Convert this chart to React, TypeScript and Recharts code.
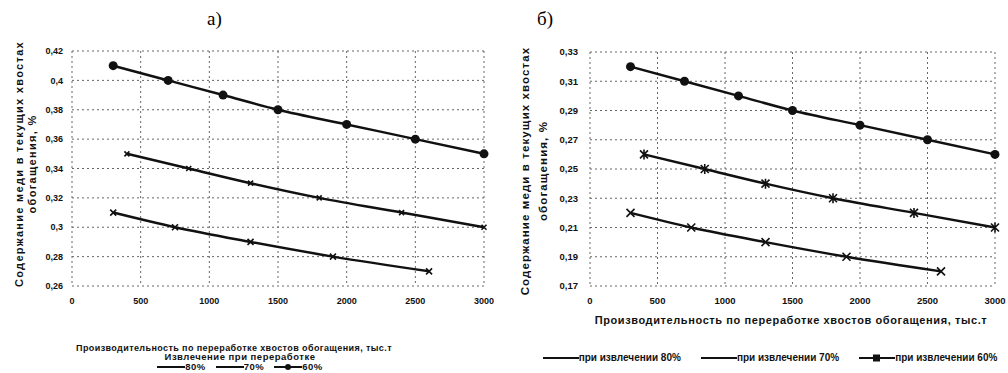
import React from 'react';
import { LineChart, Line, XAxis, YAxis, CartesianGrid, Legend, Label } from 'recharts';

const xTicks = [0, 500, 1000, 1500, 2000, 2500, 3000];
const yTicksA = [0.26, 0.28, 0.3, 0.32, 0.34, 0.36, 0.38, 0.4, 0.42];
const yTicksB = [0.17, 0.19, 0.21, 0.23, 0.25, 0.27, 0.29, 0.31, 0.33];

// производительность, тыс.т
const x60 = [300, 700, 1100, 1500, 2000, 2500, 3000];
const x70 = [400, 850, 1300, 1800, 2400, 3000];
const x80 = [300, 750, 1300, 1900, 2600];

// содержание меди, %
const a60 = [0.41, 0.4, 0.39, 0.38, 0.37, 0.36, 0.35];
const a70 = [0.35, 0.34, 0.33, 0.32, 0.31, 0.3];
const a80 = [0.31, 0.3, 0.29, 0.28, 0.27];
const b60 = [0.32, 0.31, 0.3, 0.29, 0.28, 0.27, 0.26];
const b70 = [0.26, 0.25, 0.24, 0.23, 0.22, 0.21];
const b80 = [0.22, 0.21, 0.2, 0.19, 0.18];

const namesA = ['80%', '70%', '60%'];
const namesB = ['при извлечении 80%', 'при извлечении 70%', 'при извлечении 60%'];
const xTitle = 'Производительность по переработке хвостов обогащения, тыс.т';
const yTitle = ['Содержание меди в текущих хвостах', 'обогащения, %'];
const legendTitleA = 'Извлечение при переработке';

const zip = (xs: number[], ys: number[]) => xs.map((x, i) => ({ x, y: ys[i] }));
const fmt = (v: number) => String(Number(v.toFixed(2))).replace('.', ',');

const FONT = '"Liberation Sans", Arial, sans-serif';
const INK = '#111';

const Circle = (p: any) => <circle key={p.key ?? `c${p.index}`} cx={p.cx} cy={p.cy} r={4.5} fill={INK} />;
const Cross = (s: number) => (p: any) => (
  <path
    key={p.key ?? `x${p.index}`}
    d={`M${p.cx - s},${p.cy - s}L${p.cx + s},${p.cy + s}M${p.cx - s},${p.cy + s}L${p.cx + s},${p.cy - s}`}
    stroke={INK}
    strokeWidth={1.6}
    fill="none"
  />
);
const Star = (s: number) => (p: any) => (
  <path
    key={p.key ?? `s${p.index}`}
    d={`M${p.cx - s},${p.cy - s}L${p.cx + s},${p.cy + s}M${p.cx - s},${p.cy + s}L${p.cx + s},${p.cy - s}M${p.cx},${p.cy - s - 1}L${p.cx},${p.cy + s + 1}`}
    stroke={INK}
    strokeWidth={1.6}
    fill="none"
  />
);

const YTitle = ({ x1, x2, y, size, ls }: any) => (
  <g fontFamily={FONT} fontWeight="bold" fontSize={size} fill={INK} letterSpacing={ls}>
    <text x={x1} y={y} transform={`rotate(-90 ${x1} ${y})`} textAnchor="middle" dominantBaseline="central">{yTitle[0]}</text>
    <text x={x2} y={y} transform={`rotate(-90 ${x2} ${y})`} textAnchor="middle" dominantBaseline="central">{yTitle[1]}</text>
  </g>
);

const LegendA = () => (
  <div style={{ fontFamily: FONT, fontWeight: 'bold', fontSize: 9.5, letterSpacing: 0.5, color: INK, textAlign: 'center', lineHeight: '10px' }}>
    <div>{legendTitleA}</div>
    <div style={{ display: 'flex', justifyContent: 'center', gap: 10 }}>
      {namesA.map((name, i) => (
        <span key={name} style={{ display: 'flex', alignItems: 'center' }}>
          <svg width={28} height={8}>
            <line x1={0} y1={4} x2={28} y2={4} stroke={INK} strokeWidth={2} />
            {i === 2 && <circle cx={14} cy={4} r={3} fill={INK} />}
          </svg>
          <span>{name}</span>
        </span>
      ))}
    </div>
  </div>
);

const LegendB = () => (
  <div style={{ fontFamily: FONT, fontWeight: 'bold', fontSize: 10, color: INK, display: 'flex', justifyContent: 'center', gap: 20 }}>
    {namesB.map((name, i) => (
      <span key={name} style={{ display: 'flex', alignItems: 'center' }}>
        <svg width={36} height={10}>
          <line x1={0} y1={5} x2={36} y2={5} stroke={INK} strokeWidth={2} />
          {i === 2 && <rect x={14} y={1.5} width={7} height={7} fill={INK} />}
        </svg>
        <span>{name}</span>
      </span>
    ))}
  </div>
);

const gridProps = { stroke: '#666', strokeDasharray: '2 3', strokeWidth: 1 };

export default function App() {
  return (
    <div style={{ position: 'absolute', left: 0, top: 0, width: 1008, height: 373, background: '#fff', overflow: 'hidden' }}>
      <div style={{ position: 'absolute', left: 207, top: 8, fontFamily: '"Liberation Serif", serif', fontSize: 19 }}>а)</div>
      <div style={{ position: 'absolute', left: 537, top: 8, fontFamily: '"Liberation Serif", serif', fontSize: 19 }}>б)</div>

      <div style={{ position: 'absolute', left: 0, top: 0 }}>
        <LineChart width={500} height={373} margin={{ top: 51, right: 16, bottom: 57, left: 32 }}>
          <CartesianGrid {...gridProps} />
          <XAxis
            type="number"
            dataKey="x"
            domain={[0, 3000]}
            ticks={xTicks}
            height={30}
            axisLine={false}
            tickLine={false}
            tickSize={0}
            tickMargin={12}
            tick={{ fontFamily: FONT, fontWeight: 'bold', fontSize: 9, fill: INK }}
            allowDuplicatedCategory={false}
          >
            <Label
              content={() => (
                <text x={234} y={351} textAnchor="middle" fontFamily={FONT} fontWeight="bold" fontSize={9} letterSpacing={0.4} fill={INK}>{xTitle}</text>
              )}
            />
          </XAxis>
          <YAxis
            type="number"
            domain={[0.26, 0.42]}
            ticks={yTicksA}
            width={40}
            axisLine={false}
            tickLine={false}
            tickSize={0}
            tickMargin={9}
            tickFormatter={fmt}
            tick={{ fontFamily: FONT, fontWeight: 'bold', fontSize: 9, fill: INK }}
          >
            <Label content={() => <YTitle x1={19} x2={32} y={164} size={11} ls={1.3} />} />
          </YAxis>
          <Legend verticalAlign="middle" align="center" layout="horizontal" wrapperStyle={{ top: 352, left: 120, width: 240 }} content={LegendA} />
          <Line name={namesA[0]} data={zip(x80, a80)} dataKey="y" type="monotone" stroke={INK} strokeWidth={2.5} dot={Cross(3)} isAnimationActive={false} />
          <Line name={namesA[1]} data={zip(x70, a70)} dataKey="y" type="monotone" stroke={INK} strokeWidth={2.5} dot={Cross(2.5)} isAnimationActive={false} />
          <Line name={namesA[2]} data={zip(x60, a60)} dataKey="y" type="monotone" stroke={INK} strokeWidth={2.5} dot={Circle} isAnimationActive={false} />
        </LineChart>
      </div>

      <div style={{ position: 'absolute', left: 500, top: 0 }}>
        <LineChart width={508} height={373} margin={{ top: 52, right: 13, bottom: 57, left: 45 }}>
          <CartesianGrid {...gridProps} />
          <XAxis
            type="number"
            dataKey="x"
            domain={[0, 3000]}
            ticks={xTicks}
            height={30}
            axisLine={false}
            tickLine={false}
            tickSize={0}
            tickMargin={11}
            tick={{ fontFamily: FONT, fontWeight: 'bold', fontSize: 9.5, fill: INK }}
            allowDuplicatedCategory={false}
          >
            <Label
              content={() => (
                <text x={291} y={324} textAnchor="middle" fontFamily={FONT} fontWeight="bold" fontSize={11} letterSpacing={0.6} fill={INK}>{xTitle}</text>
              )}
            />
          </XAxis>
          <YAxis
            type="number"
            domain={[0.17, 0.33]}
            ticks={yTicksB}
            width={45}
            axisLine={false}
            tickLine={false}
            tickSize={0}
            tickMargin={12}
            tickFormatter={fmt}
            tick={{ fontFamily: FONT, fontWeight: 'bold', fontSize: 9.5, fill: INK }}
          >
            <Label content={() => <YTitle x1={25} x2={43} y={171} size={11.5} ls={1.1} />} />
          </YAxis>
          <Legend verticalAlign="middle" align="center" layout="horizontal" wrapperStyle={{ top: 352, left: 20, width: 500 }} content={LegendB} />
          <Line name={namesB[0]} data={zip(x80, b80)} dataKey="y" type="monotone" stroke={INK} strokeWidth={2.5} dot={Cross(4)} isAnimationActive={false} />
          <Line name={namesB[1]} data={zip(x70, b70)} dataKey="y" type="monotone" stroke={INK} strokeWidth={2.5} dot={Star(4)} isAnimationActive={false} />
          <Line name={namesB[2]} data={zip(x60, b60)} dataKey="y" type="monotone" stroke={INK} strokeWidth={2.5} dot={Circle} isAnimationActive={false} />
        </LineChart>
      </div>
    </div>
  );
}
